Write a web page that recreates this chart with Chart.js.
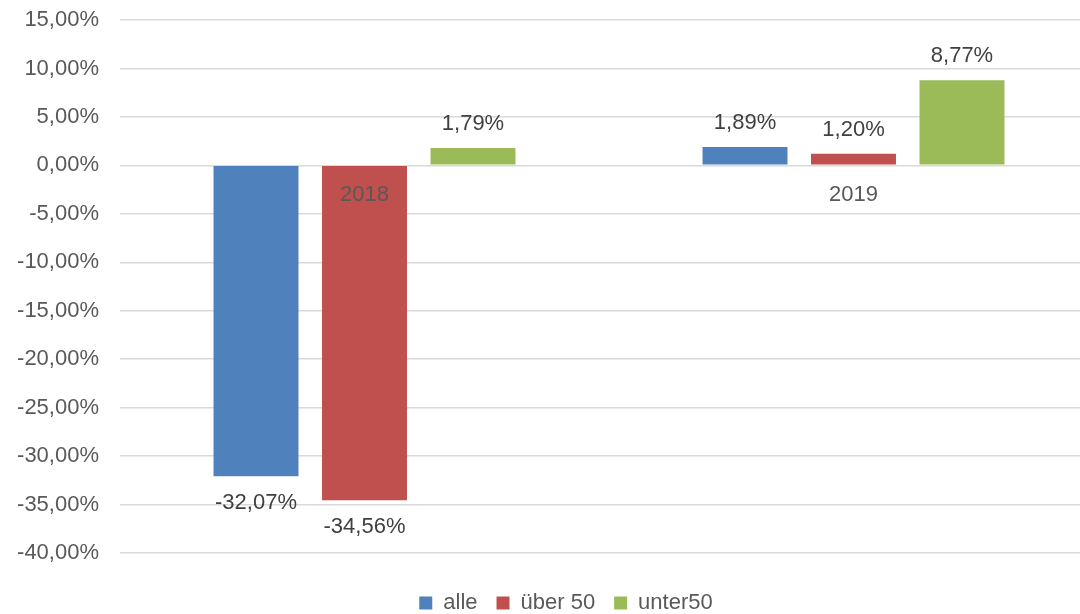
<!DOCTYPE html>
<html>
<head>
<meta charset="utf-8">
<script src="https://cdn.jsdelivr.net/npm/chart.js@4/dist/chart.umd.min.js"></script>
<style>
    html, body { margin: 0; padding: 0; background: #fff; overflow: hidden; width: 1080px; height: 614px; }
    #wrap { width: 1100px; height: 640px; }
</style>
</head>
<body>
<div id="wrap"><canvas id="chart" width="1100" height="640"></canvas></div>
<script>
(function () {
    "use strict";

    // Values (percent).
    var years = ["2018", "2019"];
    var seriesNames = ["alle", "über 50", "unter50"];
    var alle = [-32.07, 1.89];
    var ueber50 = [-34.56, 1.20];
    var unter50 = [1.79, 8.77];
    var yMin = -40, yMax = 15, yStep = 5;

    // Excel 2007 palette.
    var colors = ["#4F81BD", "#C0504D", "#9BBB59"];
    var font = "'Liberation Sans', Arial, sans-serif";

    function pct(v) {
        return v.toFixed(2).replace(".", ",") + "%";
    }

    // Value labels above/below each bar, and the year labels just under the zero line.
    var labelsPlugin = {
        id: "barLabels",
        afterLayout: function (chart) {
            // legend sits a bit right of the canvas centre in the original
            if (chart.legend) {
                chart.legend.left += 17;
                chart.legend.right += 17;
            }
        },
        afterDatasetsDraw: function (chart) {
            var ctx = chart.ctx;
            var y = chart.scales.y;
            var x = chart.scales.x;
            ctx.save();
            ctx.font = "22px " + font;
            ctx.textAlign = "center";
            ctx.textBaseline = "middle";

            ctx.fillStyle = "#595959";
            var zero = y.getPixelForValue(0);
            years.forEach(function (yr, i) {
                ctx.fillText(yr, x.getPixelForValue(i), zero + 30);
            });

            ctx.fillStyle = "#404040";
            chart.data.datasets.forEach(function (ds, di) {
                chart.getDatasetMeta(di).data.forEach(function (bar, i) {
                    var v = ds.data[i];
                    var ty = v >= 0 ? bar.y - 24 : bar.y + 27;
                    ctx.fillText(pct(v), bar.x, ty);
                });
            });
            ctx.restore();
        }
    };

    Chart.defaults.font.family = font;
    Chart.defaults.font.size = 22;
    Chart.defaults.color = "#595959";

    new Chart(document.getElementById("chart"), {
        type: "bar",
        data: {
            labels: years,
            datasets: [
                { label: seriesNames[0], data: alle, backgroundColor: colors[0] },
                { label: seriesNames[1], data: ueber50, backgroundColor: colors[1] },
                { label: seriesNames[2], data: unter50, backgroundColor: colors[2] }
            ]
        },
        options: {
            responsive: false,
            animation: false,
            devicePixelRatio: 1,
            categoryPercentage: 0.6656,
            barPercentage: 0.783,
            layout: { padding: { left: 0, right: 2, top: 20, bottom: 16 } },
            scales: {
                x: {
                    grid: { display: false },
                    border: { display: false },
                    ticks: { display: false },
                    afterFit: function (s) { s.height = 20; }
                },
                y: {
                    min: yMin,
                    max: yMax,
                    ticks: {
                        stepSize: yStep,
                        padding: 0,
                        color: "#595959",
                        callback: function (v) { return pct(v); }
                    },
                    // invisible tick marks keep the labels 21px off the plot
                    grid: {
                        color: "#D9D9D9",
                        lineWidth: 1.5,
                        drawTicks: true,
                        tickLength: 21,
                        tickColor: "rgba(0,0,0,0)"
                    },
                    border: { display: false },
                    afterFit: function (s) { s.width = 120; }
                }
            },
            plugins: {
                tooltip: { enabled: false },
                legend: {
                    position: "bottom",
                    labels: {
                        boxWidth: 13,
                        boxHeight: 13,
                        padding: 19,
                        color: "#595959",
                        font: { size: 22 }
                    }
                }
            }
        },
        plugins: [labelsPlugin]
    });
})();
</script>
</body>
</html>
